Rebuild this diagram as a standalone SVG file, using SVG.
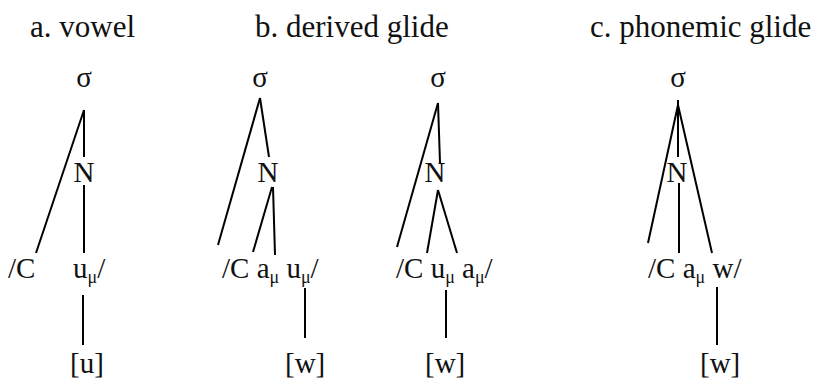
<svg xmlns="http://www.w3.org/2000/svg" width="820" height="380" viewBox="0 0 820 380">
<style>
text{font-family:"Liberation Serif","Times New Roman",serif;fill:#111}
.t{font-size:31px}
.n{font-size:29px}
.s{font-size:18px}
.c{text-anchor:middle}
line{stroke:#000;stroke-width:2;stroke-linecap:butt}
</style>
<rect width="820" height="380" fill="#fff"/>
<g id="titles">
<text class="t" x="30" y="37">a. vowel</text>
<text class="t" x="255" y="37">b. derived glide</text>
<text class="t" x="590" y="37">c. phonemic glide</text>
</g>
<g id="connectors">
<line x1="84" y1="110" x2="36" y2="253"/>
<line x1="84" y1="110" x2="84" y2="157"/>
<line x1="84" y1="185" x2="84" y2="253"/>
<line x1="83" y1="295" x2="83" y2="345"/>
<line x1="260" y1="98" x2="218" y2="245"/>
<line x1="260" y1="98" x2="269" y2="157"/>
<line x1="272" y1="187" x2="253" y2="252"/>
<line x1="273" y1="187" x2="275" y2="255"/>
<line x1="305" y1="288" x2="305" y2="338"/>
<line x1="438" y1="103" x2="397" y2="247"/>
<line x1="438" y1="103" x2="440" y2="163"/>
<line x1="438" y1="190" x2="427" y2="253"/>
<line x1="438" y1="190" x2="457" y2="253"/>
<line x1="446" y1="290" x2="446" y2="338"/>
<line x1="678" y1="100" x2="678" y2="157"/>
<line x1="678" y1="105" x2="648" y2="243"/>
<line x1="678" y1="105" x2="712" y2="253"/>
<line x1="679" y1="183" x2="679" y2="253"/>
<line x1="717" y1="287" x2="717" y2="345"/>
</g>
<g id="a-sigma"><text class="n c" x="84" y="87">σ</text></g>
<g id="a-N"><text class="n c" x="84" y="182">N</text></g>
<g id="a-C"><text class="n" x="8" y="278">/C</text></g>
<g id="a-u"><text class="n" x="73" y="278">u<tspan class="s" dy="5">μ</tspan><tspan dy="-5">/</tspan></text></g>
<g id="a-out"><text class="n" x="70" y="373">[u]</text></g>
<g id="b1-sigma"><text class="n c" x="260" y="87">σ</text></g>
<g id="b1-N"><text class="n c" x="268" y="182">N</text></g>
<g id="b1-seg"><text class="n" x="222" y="278">/C a<tspan class="s" dy="5">μ</tspan><tspan dy="-5"> u</tspan><tspan class="s" dy="5">μ</tspan><tspan dy="-5">/</tspan></text></g>
<g id="b1-out"><text class="n" x="285" y="373">[w]</text></g>
<g id="b2-sigma"><text class="n c" x="438" y="87">σ</text></g>
<g id="b2-N"><text class="n c" x="435" y="182">N</text></g>
<g id="b2-seg"><text class="n" x="396" y="278">/C u<tspan class="s" dy="5">μ</tspan><tspan dy="-5"> a</tspan><tspan class="s" dy="5">μ</tspan><tspan dy="-5">/</tspan></text></g>
<g id="b2-out"><text class="n" x="425" y="373">[w]</text></g>
<g id="c-sigma"><text class="n c" x="678" y="87">σ</text></g>
<g id="c-N"><text class="n c" x="677" y="182">N</text></g>
<g id="c-seg"><text class="n" x="648" y="278">/C a<tspan class="s" dy="5">μ</tspan><tspan dy="-5"> w/</tspan></text></g>
<g id="c-out"><text class="n" x="700" y="373">[w]</text></g>
</svg>
